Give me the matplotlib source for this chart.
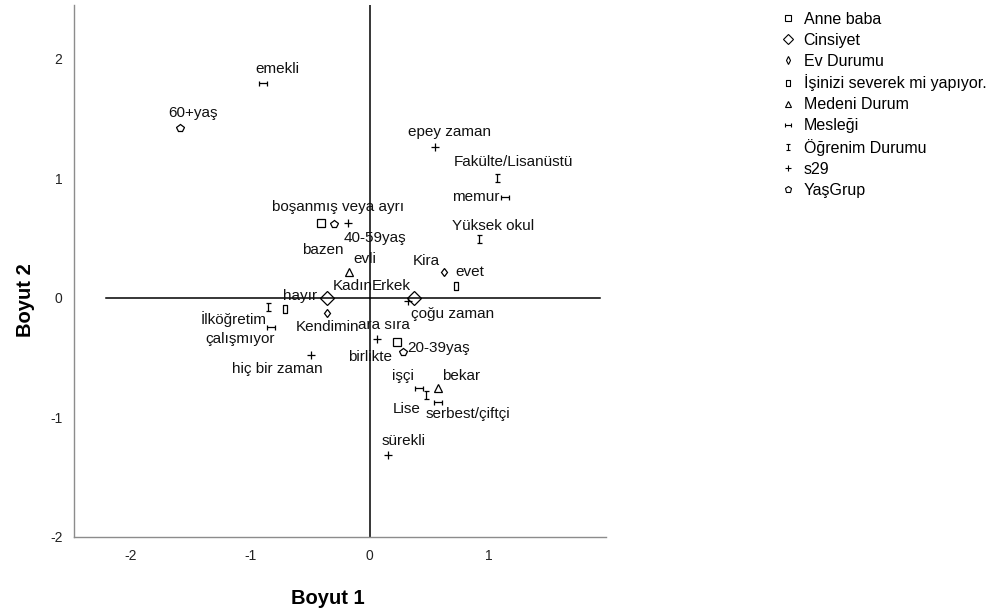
import matplotlib
matplotlib.use("Agg")
import matplotlib.pyplot as plt
from matplotlib.path import Path
from matplotlib.lines import Line2D

plt.rcParams['font.family'] = ['Liberation Sans', 'DejaVu Sans']

# ---------------- data ----------------
groups = ["Anne baba", "Cinsiyet", "Ev Durumu", "İşinizi severek mi yapıyor.",
          "Medeni Durum", "Mesleği", "Öğrenim Durumu", "s29", "YaşGrup"]

anne_baba_labels = ["boşanmış veya ayrı", "birlikte"]
anne_baba_x = [-0.41, 0.23]
anne_baba_y = [0.63, -0.37]

cinsiyet_labels = ["Kadın", "Erkek"]
cinsiyet_x = [-0.36, 0.37]
cinsiyet_y = [0.00, 0.00]

ev_labels = ["Kendimin", "Kira"]
ev_x = [-0.36, 0.62]
ev_y = [-0.13, 0.22]

isiniz_labels = ["hayır", "evet"]
isiniz_x = [-0.71, 0.72]
isiniz_y = [-0.09, 0.10]

medeni_labels = ["evli", "bekar"]
medeni_x = [-0.17, 0.57]
medeni_y = [0.22, -0.75]

meslek_labels = ["emekli", "memur", "çalışmıyor", "işçi", "serbest/çiftçi"]
meslek_x = [-0.89, 1.13, -0.83, 0.41, 0.57]
meslek_y = [1.80, 0.84, -0.24, -0.75, -0.87]

ogrenim_labels = ["Fakülte/Lisanüstü", "Yüksek okul", "İlköğretim", "Lise"]
ogrenim_x = [1.07, 0.92, -0.85, 0.47]
ogrenim_y = [1.00, 0.49, -0.08, -0.81]

s29_labels = ["epey zaman", "bazen", "çoğu zaman", "ara sıra", "hiç bir zaman", "sürekli"]
s29_x = [0.55, -0.18, 0.32, 0.06, -0.49, 0.15]
s29_y = [1.26, 0.63, -0.03, -0.34, -0.48, -1.31]

yas_labels = ["60+yaş", "40-59yaş", "20-39yaş"]
yas_x = [-1.59, -0.30, 0.28]
yas_y = [1.42, 0.62, -0.45]

x_ticks = [-2, -1, 0, 1]
y_ticks = [-2, -1, 0, 1, 2]

# ---------------- style / layout ----------------
M, L = Path.MOVETO, Path.LINETO
hbar = Path([(-1, -0.6), (-1, 0.6), (1, -0.6), (1, 0.6), (-1, 0), (1, 0)],
            [M, L, M, L, M, L])
vbar = Path([(-0.6, 1), (0.6, 1), (-0.6, -1), (0.6, -1), (0, -1), (0, 1)],
            [M, L, M, L, M, L])
rect = Path([(-0.55, -1), (0.55, -1), (0.55, 1), (-0.55, 1), (-0.55, -1)],
            [M, L, L, L, Path.CLOSEPOLY])

styles = {
    "Anne baba": dict(marker='s', ms=6),
    "Cinsiyet": dict(marker='D', ms=7),
    "Ev Durumu": dict(marker='d', ms=4.5),
    "İşinizi severek mi yapıyor.": dict(marker=rect, ms=6),
    "Medeni Durum": dict(marker='^', ms=5.5),
    "Mesleği": dict(marker=hbar, ms=6),
    "Öğrenim Durumu": dict(marker=vbar, ms=6),
    "s29": dict(marker='+', ms=6),
    "YaşGrup": dict(marker='p', ms=6),
}

# label offsets (pixels): left edge / vertical center relative to the point
offsets = {
    "emekli": (-8, 14), "60+yaş": (-12, 15), "epey zaman": (-27, 15),
    "Fakülte/Lisanüstü": (-44, 16), "memur": (-52, 0), "Yüksek okul": (-27, 13),
    "Kira": (-31, 11), "evet": (0, 14), "Kadın": (6, 12), "Erkek": (-42, 12),
    "hayır": (-2, 13), "evli": (4, 13), "bazen": (-46, -27), "40-59yaş": (10, -14),
    "boşanmış veya ayrı": (-49, 16), "İlköğretim": (-67, -12),
    "çalışmıyor": (-65, -12), "Kendimin": (-31, -14), "ara sıra": (-19, 14),
    "birlikte": (-49, -15), "hiç bir zaman": (-79, -14), "çoğu zaman": (3, -13),
    "20-39yaş": (4, 4), "işçi": (-27, 12), "bekar": (4, 12), "Lise": (-33, -14),
    "serbest/çiftçi": (-12, -12), "sürekli": (-6, 14),
}

series = [
    ("Anne baba", anne_baba_labels, anne_baba_x, anne_baba_y),
    ("Cinsiyet", cinsiyet_labels, cinsiyet_x, cinsiyet_y),
    ("Ev Durumu", ev_labels, ev_x, ev_y),
    ("İşinizi severek mi yapıyor.", isiniz_labels, isiniz_x, isiniz_y),
    ("Medeni Durum", medeni_labels, medeni_x, medeni_y),
    ("Mesleği", meslek_labels, meslek_x, meslek_y),
    ("Öğrenim Durumu", ogrenim_labels, ogrenim_x, ogrenim_y),
    ("s29", s29_labels, s29_x, s29_y),
    ("YaşGrup", yas_labels, yas_x, yas_y),
]

fig = plt.figure(figsize=(9.91, 6.13), dpi=100)
ax = fig.add_axes([73.5 / 991, 76 / 613, 532.5 / 991, 532 / 613])

ax.set_xlim(-2.48, 1.98)
ax.set_ylim(-2.0, 2.45)

# reference lines
ax.axvline(0, color='black', lw=1.1, zorder=1)
ax.plot([-2.21, 1.93], [0, 0], color='black', lw=1.1, zorder=1)

handles = []
for name, labs, xs, ys in series:
    st = styles[name]
    ax.plot(xs, ys, linestyle='none', marker=st['marker'], ms=st['ms'],
            mfc='none', mec='black', mew=0.9, zorder=3)
    for lab, x, y in zip(labs, xs, ys):
        dx, dy = offsets[lab]
        ax.annotate(lab, (x, y), xytext=(dx, dy), textcoords='offset pixels',
                    ha='left', va='center', fontsize=11, color='#111111', zorder=4)
    handles.append(Line2D([], [], linestyle='none', marker=st['marker'],
                          ms=st['ms'] * 0.8, mfc='none', mec='black', mew=0.8,
                          label=name))

ax.legend(handles=handles, loc='upper left',
          bbox_to_anchor=(782 / 991, 601 / 613), bbox_transform=fig.transFigure,
          frameon=False, fontsize=11.5, handlelength=0.8, handletextpad=0.55,
          labelspacing=0.365, borderaxespad=0, borderpad=0)

for s in ['top', 'right']:
    ax.spines[s].set_visible(False)
for s in ['left', 'bottom']:
    ax.spines[s].set_color('#8c8c8c')
    ax.spines[s].set_linewidth(1.0)

ax.set_xticks(x_ticks)
ax.set_yticks(y_ticks)
ax.set_xticklabels([str(t) for t in x_ticks])
ax.set_yticklabels([str(t) for t in y_ticks])
ax.tick_params(axis='both', length=0, labelsize=10, colors='#222222')
ax.tick_params(axis='x', pad=9)
ax.tick_params(axis='y', pad=8)

ax.set_xlabel("Boyut 1", fontsize=14.5, fontweight='bold')
ax.xaxis.set_label_coords(0.478, -0.097)
ax.set_ylabel("Boyut 2", fontsize=14.5, fontweight='bold')
ax.yaxis.set_label_coords(-0.072, 0.445)

fig.savefig("out.png", dpi=100)
